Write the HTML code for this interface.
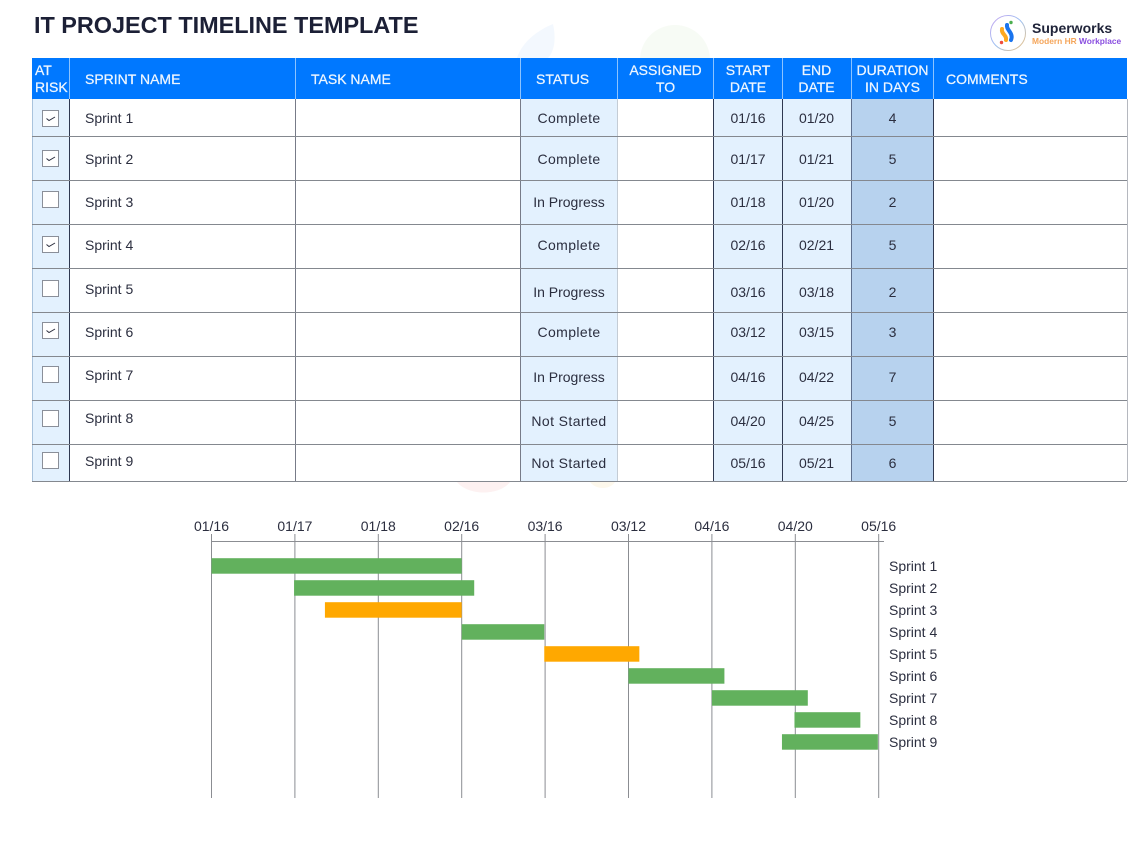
<!DOCTYPE html>
<html lang="en">
<head>
<meta charset="utf-8">
<title>IT Project Timeline Template</title>
<style>
html,body{margin:0;padding:0;background:#fff}
body{width:1147px;height:846px;position:relative;overflow:hidden;font-family:"Liberation Sans",sans-serif;color:#2b2e3f}
.a{position:absolute}
h1{position:absolute;left:34px;top:10px;margin:0;font-size:23.45px;line-height:30px;font-weight:700;color:#1c2036;white-space:nowrap;letter-spacing:-.02px}
.hd{position:absolute;left:32px;top:58px;width:1095px;height:41px;background:#0078ff}
.hs{position:absolute;top:58px;width:1px;height:41px;background:#8cc3ff}
.ht{position:absolute;color:#eef6ff;font-size:14px;line-height:17px;white-space:nowrap;-webkit-text-stroke:.25px #eef6ff}
.c{text-align:center;transform:translateX(-50%)}
.band{position:absolute;top:99px;height:382px;background:#e2f0fe;opacity:.95}
.v{position:absolute;top:99px;height:382px;width:1px;background:#777b88}
.vd{background:#2f3850}
.h{position:absolute;left:32px;width:1095px;height:1px;background:#84888f}
.t{position:absolute;font-size:14px;line-height:17px;white-space:nowrap;color:#2b2e3f}
.w{letter-spacing:.4px}
.cb{position:absolute;left:42px;width:15px;height:15px;border:1px solid #8a8f99;background:#fff}
.cb svg{position:absolute;left:0;top:0}
</style>
</head>
<body>
<svg class="a" style="left:0;top:0" width="1147" height="846">
<path d="M517 58 C522 42 538 30 553 24 C556 38 555 50 548 58 Z" fill="#f3f8fe"/>
<circle cx="675" cy="60" r="35" fill="#f7fbf5"/>
<path d="M457 482 H510 C500 496 468 496 457 482 Z" fill="#fdf1f1"/>
<path d="M590 482 H615 C610 490 596 490 590 482 Z" fill="#fdf8ec"/>
</svg>

<h1>IT PROJECT TIMELINE TEMPLATE</h1>

<div>
<svg class="a" style="left:989px;top:14px" width="38" height="38">
<defs><linearGradient id="lg" x1="0" y1="0" x2="1" y2="1"><stop offset="0" stop-color="#c9a6ef"/><stop offset=".5" stop-color="#9cc0f2"/><stop offset="1" stop-color="#f3c27a"/></linearGradient></defs>
<circle cx="19" cy="19" r="17.5" fill="#fff" stroke="url(#lg)" stroke-width="1"/>
<path d="M13 15 C12 20 18 21 17 26" fill="none" stroke="#ffa91f" stroke-width="4" stroke-linecap="round"/>
<path d="M18 11 C17 16 25 19 22 26" fill="none" stroke="#1a74ee" stroke-width="4" stroke-linecap="round"/>
<circle cx="22" cy="8.5" r="1.7" fill="#4caf50"/>
<circle cx="12.5" cy="28.5" r="1.7" fill="#ee4d3f"/>
</svg>
<div class="a" style="left:1032px;top:20px;font-size:14px;line-height:16px;font-weight:700;color:#20243a;white-space:nowrap">Superworks</div>
<div class="a" style="left:1032px;top:36px;font-size:8.4px;line-height:11px;white-space:nowrap;font-weight:700"><span style="color:#f5a65b">Modern HR </span><span style="color:#8a4fe0">Workplace</span></div>
</div>

<div>
<div class="hd"></div>
<div class="hs" style="left:69px"></div><div class="hs" style="left:295px"></div><div class="hs" style="left:520px"></div><div class="hs" style="left:617px"></div><div class="hs" style="left:713px"></div><div class="hs" style="left:782px"></div><div class="hs" style="left:851px"></div><div class="hs" style="left:933px"></div>

<div class="ht" style="left:35px;top:62px">AT<br>RISK</div>
<div class="ht" style="left:85px;top:71px">SPRINT NAME</div>
<div class="ht" style="left:311px;top:71px">TASK NAME</div>
<div class="ht" style="left:536px;top:71px">STATUS</div>
<div class="ht c" style="left:665.5px;top:62px">ASSIGNED<br>TO</div>
<div class="ht c" style="left:748px;top:62px">START<br>DATE</div>
<div class="ht c" style="left:816.5px;top:62px">END<br>DATE</div>
<div class="ht c" style="left:892.5px;top:62px">DURATION<br>IN DAYS</div>
<div class="ht" style="left:946px;top:71px">COMMENTS</div>

<div class="band" style="left:32px;width:37px"></div>
<div class="band" style="left:521px;width:96px"></div>
<div class="band" style="left:714px;width:137.5px"></div>
<div class="band" style="left:852px;width:81.5px;background:#b7d2ee;opacity:1"></div>

<div class="v" style="left:32px;background:#a9c3dd"></div><div class="v vd" style="left:69px"></div><div class="v" style="left:295px"></div><div class="v" style="left:520px"></div><div class="v" style="left:617px;background:#c4ccd5"></div><div class="v vd" style="left:713px"></div><div class="v vd" style="left:782px"></div><div class="v" style="left:851px;background:#5f6f8c"></div><div class="v vd" style="left:933px"></div><div class="v" style="left:1127px;background:#b5b8bf"></div>

<div class="h" style="top:136px"></div><div class="h" style="top:180px"></div><div class="h" style="top:224px"></div><div class="h" style="top:268px"></div><div class="h" style="top:312px"></div><div class="h" style="top:356px"></div><div class="h" style="top:400px"></div><div class="h" style="top:444px"></div><div class="h" style="top:481px"></div>

<div class="cb" style="top:110px"><svg width="15" height="15"><path d="M3.5 7.5 L6 9.5 L12 6" fill="none" stroke="#2b2e3f" stroke-width="1"/></svg></div>
<div class="cb" style="top:150px"><svg width="15" height="15"><path d="M3.5 7.5 L6 9.5 L12 6" fill="none" stroke="#2b2e3f" stroke-width="1"/></svg></div>
<div class="cb" style="top:191px"></div>
<div class="cb" style="top:236px"><svg width="15" height="15"><path d="M3.5 7.5 L6 9.5 L12 6" fill="none" stroke="#2b2e3f" stroke-width="1"/></svg></div>
<div class="cb" style="top:280px"></div>
<div class="cb" style="top:322px"><svg width="15" height="15"><path d="M3.5 7.5 L6 9.5 L12 6" fill="none" stroke="#2b2e3f" stroke-width="1"/></svg></div>
<div class="cb" style="top:366px"></div>
<div class="cb" style="top:410px"></div>
<div class="cb" style="top:452px"></div>

<div class="t" style="left:85px;top:110px">Sprint 1</div>
<div class="t" style="left:85px;top:151px">Sprint 2</div>
<div class="t" style="left:85px;top:194px">Sprint 3</div>
<div class="t" style="left:85px;top:237px">Sprint 4</div>
<div class="t" style="left:85px;top:281px">Sprint 5</div>
<div class="t" style="left:85px;top:324px">Sprint 6</div>
<div class="t" style="left:85px;top:367px">Sprint 7</div>
<div class="t" style="left:85px;top:410px">Sprint 8</div>
<div class="t" style="left:85px;top:453px">Sprint 9</div>

<div class="t c w" style="left:569px;top:110px">Complete</div>
<div class="t c w" style="left:569px;top:151px">Complete</div>
<div class="t c" style="left:569px;top:194px">In Progress</div>
<div class="t c w" style="left:569px;top:237px">Complete</div>
<div class="t c" style="left:569px;top:284px">In Progress</div>
<div class="t c w" style="left:569px;top:324px">Complete</div>
<div class="t c" style="left:569px;top:369px">In Progress</div>
<div class="t c w" style="left:569px;top:413px">Not Started</div>
<div class="t c w" style="left:569px;top:455px">Not Started</div>

<div class="t c" style="left:748px;top:110px">01/16</div>
<div class="t c" style="left:748px;top:151px">01/17</div>
<div class="t c" style="left:748px;top:194px">01/18</div>
<div class="t c" style="left:748px;top:237px">02/16</div>
<div class="t c" style="left:748px;top:284px">03/16</div>
<div class="t c" style="left:748px;top:324px">03/12</div>
<div class="t c" style="left:748px;top:369px">04/16</div>
<div class="t c" style="left:748px;top:413px">04/20</div>
<div class="t c" style="left:748px;top:455px">05/16</div>

<div class="t c" style="left:816.5px;top:110px">01/20</div>
<div class="t c" style="left:816.5px;top:151px">01/21</div>
<div class="t c" style="left:816.5px;top:194px">01/20</div>
<div class="t c" style="left:816.5px;top:237px">02/21</div>
<div class="t c" style="left:816.5px;top:284px">03/18</div>
<div class="t c" style="left:816.5px;top:324px">03/15</div>
<div class="t c" style="left:816.5px;top:369px">04/22</div>
<div class="t c" style="left:816.5px;top:413px">04/25</div>
<div class="t c" style="left:816.5px;top:455px">05/21</div>

<div class="t c" style="left:892.5px;top:110px">4</div>
<div class="t c" style="left:892.5px;top:151px">5</div>
<div class="t c" style="left:892.5px;top:194px">2</div>
<div class="t c" style="left:892.5px;top:237px">5</div>
<div class="t c" style="left:892.5px;top:284px">2</div>
<div class="t c" style="left:892.5px;top:324px">3</div>
<div class="t c" style="left:892.5px;top:369px">7</div>
<div class="t c" style="left:892.5px;top:413px">5</div>
<div class="t c" style="left:892.5px;top:455px">6</div>
</div>

<svg id="gantt" class="a" style="left:0;top:500px" width="1147" height="320" viewBox="0 500 1147 320"></svg>

<script>
const tickLabels = ['01/16','01/17','01/18','02/16','03/16','03/12','04/16','04/20','05/16'];
const sprints = ['Sprint 1','Sprint 2','Sprint 3','Sprint 4','Sprint 5','Sprint 6','Sprint 7','Sprint 8','Sprint 9'];
const barStarts = [0, 0.99, 1.36, 3, 3.99, 5, 6, 6.99, 6.84];
const barEnds = [3, 3.15, 3, 3.99, 5.13, 6.15, 7.15, 7.78, 7.99];
const barStatus = ['Complete','Complete','In Progress','Complete','In Progress','Complete','Complete','Complete','Complete'];

const svg = document.getElementById('gantt');
const NS = 'http://www.w3.org/2000/svg';
const xScale = v => 211.5 + v * 83.4;
const yScale = i => 558.2 + i * 22;
const statusColor = s => s === 'In Progress' ? '#ffa800' : '#62b15d';
function make(tag, attrs, text) {
  const el = document.createElementNS(NS, tag);
  for (const k in attrs) el.setAttribute(k, attrs[k]);
  if (text !== undefined) el.textContent = text;
  svg.appendChild(el);
  return el;
}
tickLabels.forEach((label, i) => {
  const grid = make('line', {x1: xScale(i), x2: xScale(i), y1: 534, y2: 798, stroke: '#8b8d92', 'stroke-width': 1});
  
  
  const tick = make('text', {x: xScale(i), y: 531, 'text-anchor': 'middle', 'font-size': 14, 'font-family': '"Liberation Sans", sans-serif', fill: '#2b2e3f'}, label);
  
  
});
const axis = make('line', {x1: xScale(0), x2: 884, y1: 541.5, y2: 541.5, stroke: '#8b8d92', 'stroke-width': 1});


sprints.forEach((name, i) => {
  const bar = make('rect', {x: xScale(barStarts[i]), y: yScale(i), width: xScale(barEnds[i]) - xScale(barStarts[i]), height: 15.5, fill: statusColor(barStatus[i])});
  
  
  const label = make('text', {x: 889, y: yScale(i) + 13, 'font-size': 14, 'font-family': '"Liberation Sans", sans-serif', fill: '#2b2e3f'}, name);
  
  
});
</script>
</body>
</html>
